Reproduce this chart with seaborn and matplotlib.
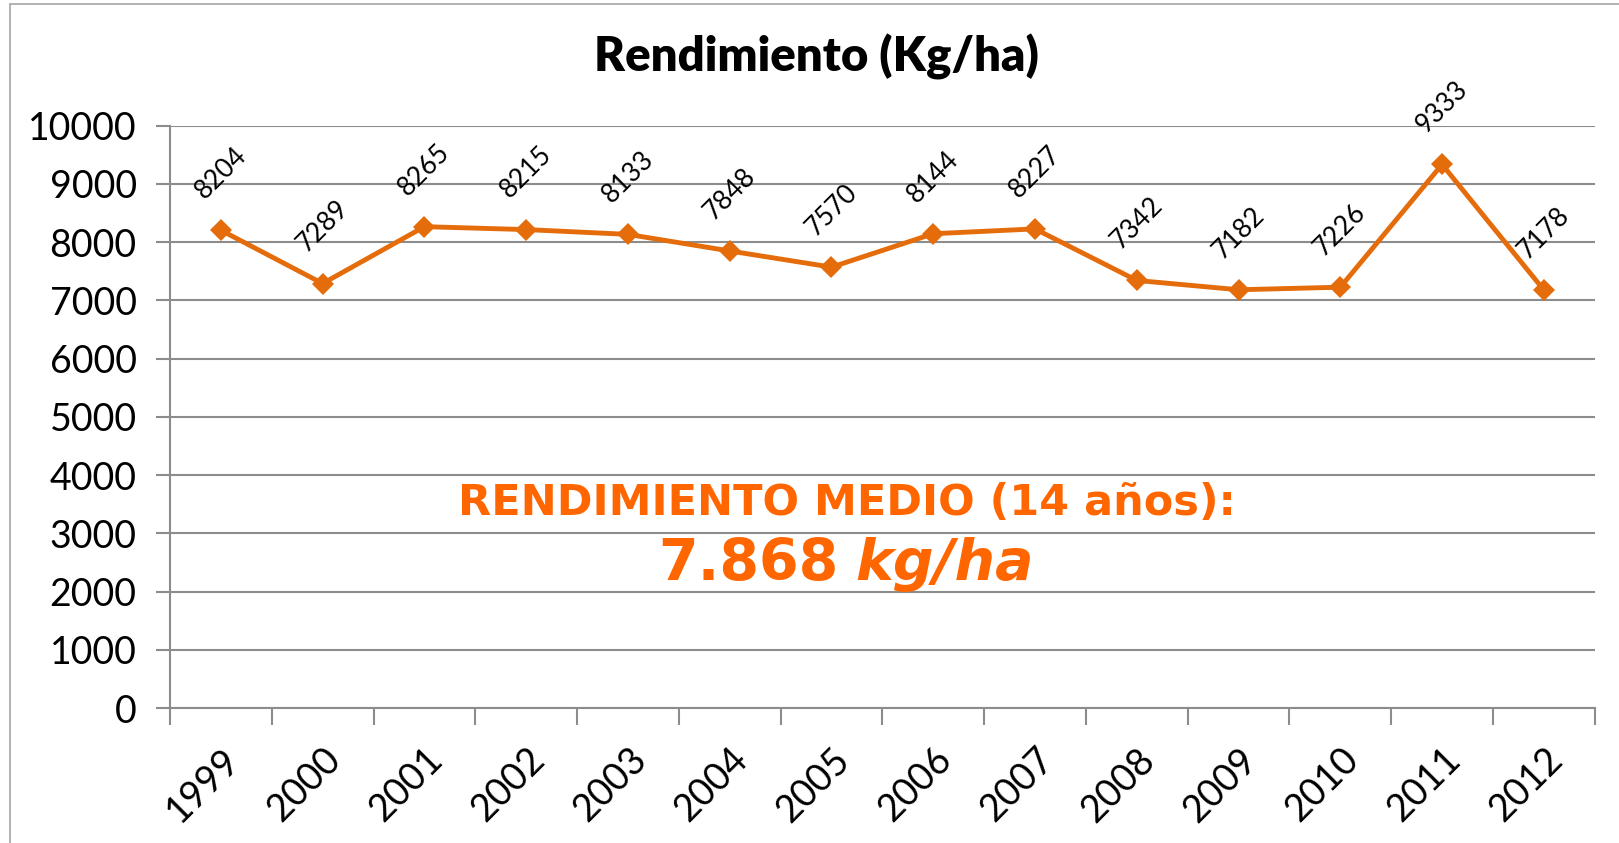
import matplotlib
matplotlib.use("Agg")
import matplotlib.pyplot as plt
import seaborn as sns
import pandas as pd

# dati
anni = ["1999", "2000", "2001", "2002", "2003", "2004", "2005",
        "2006", "2007", "2008", "2009", "2010", "2011", "2012"]
rendimento = [8204, 7289, 8265, 8215, 8133, 7848, 7570,
              8144, 8227, 7342, 7182, 7226, 9333, 7178]
y_ticks = [0, 1000, 2000, 3000, 4000, 5000, 6000, 7000, 8000, 9000, 10000]
titolo = "Rendimiento (Kg/ha)"
nota_riga1 = "RENDIMIENTO MEDIO (14 años):"
nota_valore = "7.868"
nota_unita = "kg/ha"

arancio = "#E46C0A"
arancio_testo = "#FF6600"
grigio = "#8C8C8C"

sns.set_style("white")
plt.rcParams["font.family"] = ["Lato", "DejaVu Sans"]
plt.rcParams["text.color"] = "black"
plt.rcParams["xtick.color"] = "black"
plt.rcParams["ytick.color"] = "black"

df = pd.DataFrame({"anno": anni, "rendimento": rendimento})

fig = plt.figure(figsize=(16.19, 8.43), dpi=100)
ax = fig.add_axes([0.105, 0.160, 0.880, 0.691])

sns.lineplot(data=df, x="anno", y="rendimento", ax=ax, color=arancio,
             linewidth=3.5, marker="D", markersize=11, markeredgewidth=0,
             sort=False)

ax.set_xlim(-0.5, len(anni) - 0.5)
ax.set_ylim(0, 10000)
ax.set_yticks(y_ticks)
ax.set_yticklabels([str(v) for v in y_ticks], fontsize=27)
ax.set_xticks(range(len(anni)))
ax.set_xticklabels(anni, fontsize=27, rotation=45, ha="right",
                   rotation_mode="anchor")
ax.tick_params(axis="x", length=0, pad=24, labelcolor="black")
ax.tick_params(axis="y", length=10, width=1.5, color=grigio, pad=14,
               left=True, labelcolor="black")
# tacche tra le categorie, come in Excel
ax.set_xticks([i - 0.5 for i in range(len(anni) + 1)], minor=True)
ax.tick_params(axis="x", which="minor", length=12, width=1.5, color=grigio,
               bottom=True)
ax.set_xlabel("")
ax.set_ylabel("")

ax.grid(axis="y", color=grigio, linewidth=1.5)
ax.set_axisbelow(True)
for lato in ["top", "right"]:
    ax.spines[lato].set_visible(False)
for lato in ["left", "bottom"]:
    ax.spines[lato].set_color(grigio)
    ax.spines[lato].set_linewidth(1.5)

# etichette dei valori
for i, v in enumerate(rendimento):
    ax.annotate(str(v), (i, v), xytext=(0, 57), textcoords="offset pixels",
                ha="center", va="center", rotation=45, fontsize=19,
                color="black")

fig.text(0.504, 0.932, titolo, ha="center", va="center", fontsize=34,
         fontweight="heavy")

fig.text(0.523, 0.403, nota_riga1, ha="center", va="center", fontsize=31,
         fontweight="bold", color=arancio_testo, family="DejaVu Sans")
fig.text(0.518, 0.330, nota_valore, ha="right", va="center", fontsize=41,
         fontweight="bold", color=arancio_testo, family="DejaVu Sans")
fig.text(0.528, 0.330, nota_unita, ha="left", va="center", fontsize=41,
         fontweight="bold", style="italic", color=arancio_testo,
         family="DejaVu Sans")

# cornice esterna
fig.add_artist(plt.Line2D([0.006, 0.006], [0, 0.995], color="#A6A6A6",
                          linewidth=1.2, transform=fig.transFigure))
fig.add_artist(plt.Line2D([0.006, 1], [0.995, 0.995], color="#A6A6A6",
                          linewidth=1.2, transform=fig.transFigure))

fig.savefig("out.png", dpi=100)
